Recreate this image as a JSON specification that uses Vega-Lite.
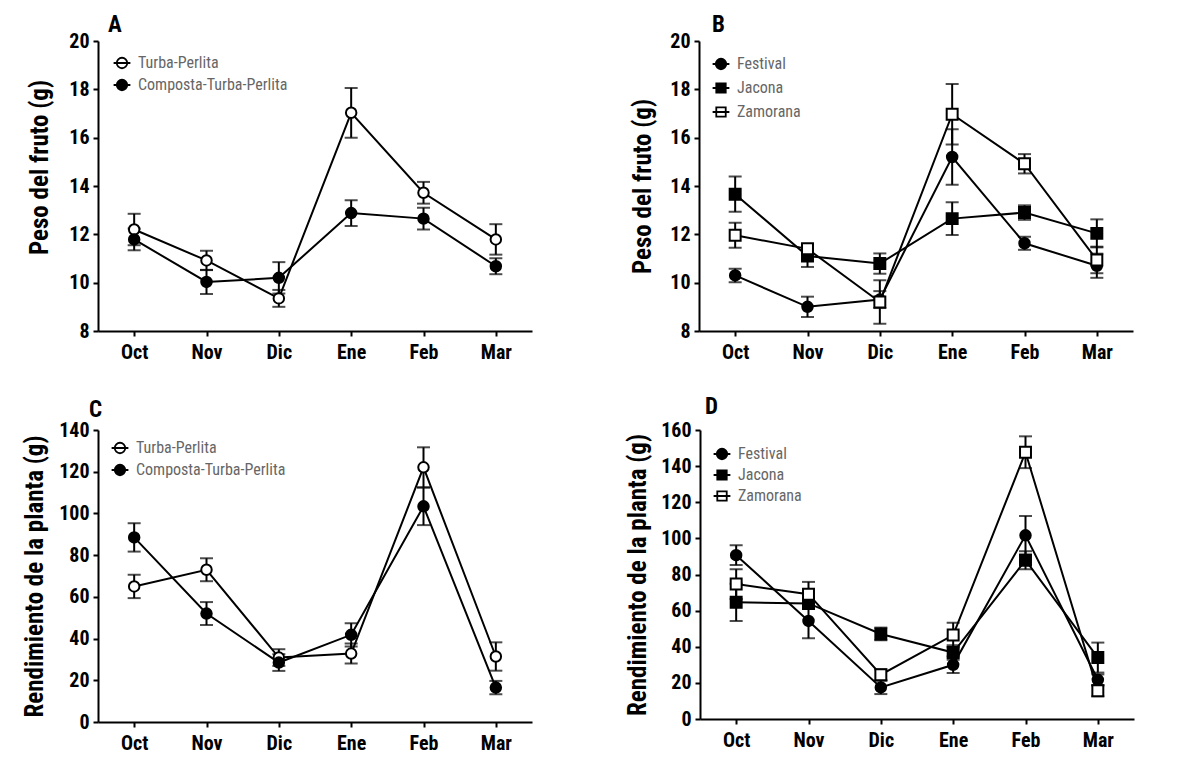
{
  "$schema": "https://vega.github.io/schema/vega-lite/v6.json",
  "background": "white",
  "padding": {"left": 22, "top": 14, "right": 5, "bottom": 5},
  "config": {
    "font": "Roboto Condensed, Liberation Sans Narrow, Arial Narrow, Liberation Sans, sans-serif",
    "view": {"stroke": null},
    "axis": {
      "domainColor": "black", "domainWidth": 2, "tickColor": "black", "tickWidth": 2, "tickSize": 5,
      "labelFont": "Roboto Condensed, Liberation Sans Narrow, Arial Narrow, Liberation Sans, sans-serif",
      "labelFontWeight": "bold", "labelFontSize": 20, "labelColor": "black",
      "titleFont": "Roboto Condensed, Liberation Sans Narrow, Arial Narrow, Liberation Sans, sans-serif",
      "titleFontWeight": "bold", "titleFontSize": 25, "titleColor": "black", "grid": false
    },
    "legend": {
      "labelFont": "Roboto Condensed, Liberation Sans Narrow, Arial Narrow, Liberation Sans, sans-serif",
      "labelFontSize": 16, "labelColor": "#666666", "symbolSize": 110, "symbolStrokeWidth": 1.8,
      "labelOffset": 8, "rowPadding": 6, "labelLimit": 400
    },
    "title": {"font": "Roboto Condensed, Liberation Sans Narrow, Arial Narrow, Liberation Sans, sans-serif", "fontSize": 23, "fontWeight": "bold", "anchor": "start", "frame": "group", "color": "black"}
  },
  "datasets": {
    "A": [
      {"month": "Oct", "series": "Turba-Perlita", "mean": 12.2, "se": 0.65},
      {"month": "Nov", "series": "Turba-Perlita", "mean": 10.92, "se": 0.4},
      {"month": "Dic", "series": "Turba-Perlita", "mean": 9.35, "se": 0.35},
      {"month": "Ene", "series": "Turba-Perlita", "mean": 17.03, "se": 1.03},
      {"month": "Feb", "series": "Turba-Perlita", "mean": 13.72, "se": 0.45},
      {"month": "Mar", "series": "Turba-Perlita", "mean": 11.79, "se": 0.63},
      {"month": "Oct", "series": "Composta-Turba-Perlita", "mean": 11.79, "se": 0.45},
      {"month": "Nov", "series": "Composta-Turba-Perlita", "mean": 10.03, "se": 0.5},
      {"month": "Dic", "series": "Composta-Turba-Perlita", "mean": 10.2, "se": 0.65},
      {"month": "Ene", "series": "Composta-Turba-Perlita", "mean": 12.88, "se": 0.53},
      {"month": "Feb", "series": "Composta-Turba-Perlita", "mean": 12.65, "se": 0.45},
      {"month": "Mar", "series": "Composta-Turba-Perlita", "mean": 10.68, "se": 0.33}
    ],
    "B": [
      {"month": "Oct", "series": "Festival", "mean": 10.3, "se": 0.28},
      {"month": "Nov", "series": "Festival", "mean": 9.0, "se": 0.42},
      {"month": "Dic", "series": "Festival", "mean": 9.3, "se": 0.35},
      {"month": "Ene", "series": "Festival", "mean": 15.2, "se": 1.15},
      {"month": "Feb", "series": "Festival", "mean": 11.63, "se": 0.27},
      {"month": "Mar", "series": "Festival", "mean": 10.7, "se": 0.5},
      {"month": "Oct", "series": "Jacona", "mean": 13.66, "se": 0.73},
      {"month": "Nov", "series": "Jacona", "mean": 11.1, "se": 0.45},
      {"month": "Dic", "series": "Jacona", "mean": 10.79, "se": 0.42},
      {"month": "Ene", "series": "Jacona", "mean": 12.65, "se": 0.68},
      {"month": "Feb", "series": "Jacona", "mean": 12.9, "se": 0.3},
      {"month": "Mar", "series": "Jacona", "mean": 12.04, "se": 0.58},
      {"month": "Oct", "series": "Zamorana", "mean": 11.96, "se": 0.52},
      {"month": "Nov", "series": "Zamorana", "mean": 11.4, "se": 0.2},
      {"month": "Dic", "series": "Zamorana", "mean": 9.2, "se": 0.9},
      {"month": "Ene", "series": "Zamorana", "mean": 16.97, "se": 1.25},
      {"month": "Feb", "series": "Zamorana", "mean": 14.92, "se": 0.4},
      {"month": "Mar", "series": "Zamorana", "mean": 10.94, "se": 0.55}
    ],
    "C": [
      {"month": "Oct", "series": "Turba-Perlita", "mean": 65.0, "se": 5.6},
      {"month": "Nov", "series": "Turba-Perlita", "mean": 73.0, "se": 5.5},
      {"month": "Dic", "series": "Turba-Perlita", "mean": 30.9, "se": 4},
      {"month": "Ene", "series": "Turba-Perlita", "mean": 32.8, "se": 4.8},
      {"month": "Feb", "series": "Turba-Perlita", "mean": 122.1, "se": 9.6},
      {"month": "Mar", "series": "Turba-Perlita", "mean": 31.4, "se": 6.8},
      {"month": "Oct", "series": "Composta-Turba-Perlita", "mean": 88.5, "se": 6.8},
      {"month": "Nov", "series": "Composta-Turba-Perlita", "mean": 52.0, "se": 5.5},
      {"month": "Dic", "series": "Composta-Turba-Perlita", "mean": 28.5, "se": 4},
      {"month": "Ene", "series": "Composta-Turba-Perlita", "mean": 41.8, "se": 5.6},
      {"month": "Feb", "series": "Composta-Turba-Perlita", "mean": 103.4, "se": 9},
      {"month": "Mar", "series": "Composta-Turba-Perlita", "mean": 16.5, "se": 3.2}
    ],
    "D": [
      {"month": "Oct", "series": "Festival", "mean": 90.7, "se": 5.5},
      {"month": "Nov", "series": "Festival", "mean": 54.3, "se": 9.6},
      {"month": "Dic", "series": "Festival", "mean": 17.5, "se": 3.7},
      {"month": "Ene", "series": "Festival", "mean": 30.0, "se": 4.6},
      {"month": "Feb", "series": "Festival", "mean": 101.7, "se": 10.7},
      {"month": "Mar", "series": "Festival", "mean": 21.7, "se": 3},
      {"month": "Oct", "series": "Jacona", "mean": 64.6, "se": 10.3},
      {"month": "Nov", "series": "Jacona", "mean": 64.0, "se": 3},
      {"month": "Dic", "series": "Jacona", "mean": 47.1, "se": 3.5},
      {"month": "Ene", "series": "Jacona", "mean": 36.8, "se": 4},
      {"month": "Feb", "series": "Jacona", "mean": 87.9, "se": 5},
      {"month": "Mar", "series": "Jacona", "mean": 34.0, "se": 8.3},
      {"month": "Oct", "series": "Zamorana", "mean": 74.7, "se": 8.2},
      {"month": "Nov", "series": "Zamorana", "mean": 69.1, "se": 6.8},
      {"month": "Dic", "series": "Zamorana", "mean": 24.5, "se": 3},
      {"month": "Ene", "series": "Zamorana", "mean": 46.5, "se": 6.8},
      {"month": "Feb", "series": "Zamorana", "mean": 147.7, "se": 8.8},
      {"month": "Mar", "series": "Zamorana", "mean": 15.6, "se": 3}
    ]
  },
  "vconcat": [
    {
      "hconcat": [
        {
          "width": 434, "height": 290,
          "title": {"text": "A", "dx": 10, "offset": -6},
          "data": {"name": "A"},
          "encoding": {
            "x": {"field": "month", "type": "ordinal", "sort": ["Oct", "Nov", "Dic", "Ene", "Feb", "Mar"], "scale": {"type": "point", "padding": 0.5}, "axis": {"title": null, "labelAngle": 0, "labelPadding": 6}},
            "y": {"field": "mean", "type": "quantitative", "scale": {"domain": [8, 20], "nice": false}, "axis": {"title": "Peso del fruto (g)", "values": [8, 10, 12, 14, 16, 18, 20], "titlePadding": 16, "titleY": 126, "labelPadding": 4}}
          },
          "layer": [
            {"mark": {"type": "line", "color": "black", "strokeWidth": 2}, "encoding": {"detail": {"field": "series"}}},
            {"mark": {"type": "errorbar", "ticks": {"size": 13, "thickness": 2, "color": "black"}, "rule": {"strokeWidth": 2, "color": "black"}}, "encoding": {"yError": {"field": "se"}, "detail": {"field": "series"}}},
            {"mark": {"type": "point", "shape": "circle", "filled": true, "size": 110, "stroke": "black", "strokeWidth": 2, "opacity": 1},
             "encoding": {"fill": {"field": "series", "type": "nominal", "scale": {"domain": ["Turba-Perlita", "Composta-Turba-Perlita"], "range": ["white", "black"]}, "legend": null}}},
            {"transform": [{"filter": "false"}],
             "mark": {"type": "point", "filled": false, "size": 110, "strokeWidth": 1.8, "opacity": 1},
             "encoding": {
               "shape": {"field": "series", "type": "nominal", "scale": {"domain": ["Turba-Perlita", "Composta-Turba-Perlita"], "range": ["M-1.6,0H1.6M1,0A1,1,0,1,1,-1,0A1,1,0,1,1,1,0Z", "M-1.6,0H1.6M1,0A1,1,0,1,1,-1,0A1,1,0,1,1,1,0Z"]},
                 "legend": {"title": null, "orient": "none", "legendX": 16, "legendY": 14, "rowPadding": 4}},
               "fill": {"field": "series", "type": "nominal", "scale": {"domain": ["Turba-Perlita", "Composta-Turba-Perlita"], "range": ["white", "black"]},
                 "legend": {"title": null, "orient": "none", "legendX": 16, "legendY": 14, "rowPadding": 4}},
               "stroke": {"field": "series", "type": "nominal", "scale": {"domain": ["Turba-Perlita", "Composta-Turba-Perlita"], "range": ["black", "black"]},
                 "legend": {"title": null, "orient": "none", "legendX": 16, "legendY": 14, "rowPadding": 4}}
             }}
          ],
          "resolve": {"scale": {"fill": "independent", "shape": "independent", "stroke": "independent"}, "legend": {"fill": "independent", "shape": "independent", "stroke": "independent"}}
        },
        {
          "width": 434, "height": 290,
          "title": {"text": "B", "dx": 13, "offset": -6},
          "data": {"name": "B"},
          "encoding": {
            "x": {"field": "month", "type": "ordinal", "sort": ["Oct", "Nov", "Dic", "Ene", "Feb", "Mar"], "scale": {"type": "point", "padding": 0.5}, "axis": {"title": null, "labelAngle": 0, "labelPadding": 6}},
            "y": {"field": "mean", "type": "quantitative", "scale": {"domain": [8, 20], "nice": false}, "axis": {"title": "Peso del fruto (g)", "values": [8, 10, 12, 14, 16, 18, 20], "titlePadding": 14, "labelPadding": 4}}
          },
          "layer": [
            {"mark": {"type": "line", "color": "black", "strokeWidth": 2}, "encoding": {"detail": {"field": "series"}}},
            {"mark": {"type": "errorbar", "ticks": {"size": 13, "thickness": 2, "color": "black"}, "rule": {"strokeWidth": 2, "color": "black"}}, "encoding": {"yError": {"field": "se"}, "detail": {"field": "series"}}},
            {"transform": [{"filter": {"field": "series", "equal": "Festival"}}],
             "mark": {"type": "point", "shape": "circle", "filled": true, "size": 110, "stroke": "black", "strokeWidth": 2, "opacity": 1},
             "encoding": {"fill": {"field": "series", "type": "nominal", "scale": {"domain": ["Festival", "Jacona", "Zamorana"], "range": ["black", "black", "white"]}, "legend": null}}},
            {"transform": [{"filter": {"field": "series", "oneOf": ["Jacona", "Zamorana"]}}],
             "mark": {"type": "point", "shape": "square", "filled": true, "size": 120, "stroke": "black", "strokeWidth": 2, "opacity": 1},
             "encoding": {"fill": {"field": "series", "type": "nominal", "scale": {"domain": ["Festival", "Jacona", "Zamorana"], "range": ["black", "black", "white"]}, "legend": null}}},
            {"transform": [{"filter": "false"}],
             "mark": {"type": "point", "filled": false, "size": 110, "strokeWidth": 1.8, "opacity": 1},
             "encoding": {
               "shape": {"field": "series", "type": "nominal", "scale": {"domain": ["Festival", "Jacona", "Zamorana"], "range": ["M-1.6,0H1.6M1,0A1,1,0,1,1,-1,0A1,1,0,1,1,1,0Z", "M-1.6,0H1.6M-0.9,-0.9H0.9V0.9H-0.9Z", "M-1.6,0H1.6M-0.9,-0.9H0.9V0.9H-0.9Z"]},
                 "legend": {"title": null, "orient": "none", "legendX": 14, "legendY": 15}},
               "fill": {"field": "series", "type": "nominal", "scale": {"domain": ["Festival", "Jacona", "Zamorana"], "range": ["black", "black", "white"]},
                 "legend": {"title": null, "orient": "none", "legendX": 14, "legendY": 15}},
               "stroke": {"field": "series", "type": "nominal", "scale": {"domain": ["Festival", "Jacona", "Zamorana"], "range": ["black", "black", "black"]},
                 "legend": {"title": null, "orient": "none", "legendX": 14, "legendY": 15}}
             }}
          ],
          "resolve": {"scale": {"fill": "independent", "shape": "independent", "stroke": "independent"}, "legend": {"fill": "independent", "shape": "independent", "stroke": "independent"}}
        }
      ],
      "spacing": 98,
      "resolve": {"scale": {"x": "independent", "y": "independent", "shape": "independent", "fill": "independent", "stroke": "independent"}, "legend": {"shape": "independent", "fill": "independent", "stroke": "independent"}}
    },
    {
      "hconcat": [
        {
          "width": 434, "height": 292,
          "title": {"text": "C", "dx": -9, "offset": -2},
          "data": {"name": "C"},
          "encoding": {
            "x": {"field": "month", "type": "ordinal", "sort": ["Oct", "Nov", "Dic", "Ene", "Feb", "Mar"], "scale": {"type": "point", "padding": 0.5}, "axis": {"title": null, "labelAngle": 0, "labelPadding": 6}},
            "y": {"field": "mean", "type": "quantitative", "scale": {"domain": [0, 140], "nice": false}, "axis": {"title": "Rendimiento de la planta (g)", "values": [0, 20, 40, 60, 80, 100, 120, 140], "titlePadding": 11, "labelPadding": 4}}
          },
          "layer": [
            {"mark": {"type": "line", "color": "black", "strokeWidth": 2}, "encoding": {"detail": {"field": "series"}}},
            {"mark": {"type": "errorbar", "ticks": {"size": 13, "thickness": 2, "color": "black"}, "rule": {"strokeWidth": 2, "color": "black"}}, "encoding": {"yError": {"field": "se"}, "detail": {"field": "series"}}},
            {"mark": {"type": "point", "shape": "circle", "filled": true, "size": 110, "stroke": "black", "strokeWidth": 2, "opacity": 1},
             "encoding": {"fill": {"field": "series", "type": "nominal", "scale": {"domain": ["Turba-Perlita", "Composta-Turba-Perlita"], "range": ["white", "black"]}, "legend": null}}},
            {"transform": [{"filter": "false"}],
             "mark": {"type": "point", "filled": false, "size": 110, "strokeWidth": 1.8, "opacity": 1},
             "encoding": {
               "shape": {"field": "series", "type": "nominal", "scale": {"domain": ["Turba-Perlita", "Composta-Turba-Perlita"], "range": ["M-1.6,0H1.6M1,0A1,1,0,1,1,-1,0A1,1,0,1,1,1,0Z", "M-1.6,0H1.6M1,0A1,1,0,1,1,-1,0A1,1,0,1,1,1,0Z"]},
                 "legend": {"title": null, "orient": "none", "legendX": 14, "legendY": 10, "rowPadding": 4}},
               "fill": {"field": "series", "type": "nominal", "scale": {"domain": ["Turba-Perlita", "Composta-Turba-Perlita"], "range": ["white", "black"]},
                 "legend": {"title": null, "orient": "none", "legendX": 14, "legendY": 10, "rowPadding": 4}},
               "stroke": {"field": "series", "type": "nominal", "scale": {"domain": ["Turba-Perlita", "Composta-Turba-Perlita"], "range": ["black", "black"]},
                 "legend": {"title": null, "orient": "none", "legendX": 14, "legendY": 10, "rowPadding": 4}}
             }}
          ],
          "resolve": {"scale": {"fill": "independent", "shape": "independent", "stroke": "independent"}, "legend": {"fill": "independent", "shape": "independent", "stroke": "independent"}}
        },
        {
          "width": 434, "height": 289,
          "title": {"text": "D", "dx": 5, "offset": 1},
          "data": {"name": "D"},
          "encoding": {
            "x": {"field": "month", "type": "ordinal", "sort": ["Oct", "Nov", "Dic", "Ene", "Feb", "Mar"], "scale": {"type": "point", "padding": 0.5}, "axis": {"title": null, "labelAngle": 0, "labelPadding": 6}},
            "y": {"field": "mean", "type": "quantitative", "scale": {"domain": [0, 160], "nice": false}, "axis": {"title": "Rendimiento de la planta (g)", "values": [0, 20, 40, 60, 80, 100, 120, 140, 160], "titlePadding": 10, "labelPadding": 4}}
          },
          "layer": [
            {"mark": {"type": "line", "color": "black", "strokeWidth": 2}, "encoding": {"detail": {"field": "series"}}},
            {"mark": {"type": "errorbar", "ticks": {"size": 13, "thickness": 2, "color": "black"}, "rule": {"strokeWidth": 2, "color": "black"}}, "encoding": {"yError": {"field": "se"}, "detail": {"field": "series"}}},
            {"transform": [{"filter": {"field": "series", "equal": "Festival"}}],
             "mark": {"type": "point", "shape": "circle", "filled": true, "size": 110, "stroke": "black", "strokeWidth": 2, "opacity": 1},
             "encoding": {"fill": {"field": "series", "type": "nominal", "scale": {"domain": ["Festival", "Jacona", "Zamorana"], "range": ["black", "black", "white"]}, "legend": null}}},
            {"transform": [{"filter": {"field": "series", "oneOf": ["Jacona", "Zamorana"]}}],
             "mark": {"type": "point", "shape": "square", "filled": true, "size": 120, "stroke": "black", "strokeWidth": 2, "opacity": 1},
             "encoding": {"fill": {"field": "series", "type": "nominal", "scale": {"domain": ["Festival", "Jacona", "Zamorana"], "range": ["black", "black", "white"]}, "legend": null}}},
            {"transform": [{"filter": "false"}],
             "mark": {"type": "point", "filled": false, "size": 110, "strokeWidth": 1.8, "opacity": 1},
             "encoding": {
               "shape": {"field": "series", "type": "nominal", "scale": {"domain": ["Festival", "Jacona", "Zamorana"], "range": ["M-1.6,0H1.6M1,0A1,1,0,1,1,-1,0A1,1,0,1,1,1,0Z", "M-1.6,0H1.6M-0.9,-0.9H0.9V0.9H-0.9Z", "M-1.6,0H1.6M-0.9,-0.9H0.9V0.9H-0.9Z"]},
                 "legend": {"title": null, "orient": "none", "legendX": 14, "legendY": 16, "rowPadding": 3}},
               "fill": {"field": "series", "type": "nominal", "scale": {"domain": ["Festival", "Jacona", "Zamorana"], "range": ["black", "black", "white"]},
                 "legend": {"title": null, "orient": "none", "legendX": 14, "legendY": 16, "rowPadding": 3}},
               "stroke": {"field": "series", "type": "nominal", "scale": {"domain": ["Festival", "Jacona", "Zamorana"], "range": ["black", "black", "black"]},
                 "legend": {"title": null, "orient": "none", "legendX": 14, "legendY": 16, "rowPadding": 3}}
             }}
          ],
          "resolve": {"scale": {"fill": "independent", "shape": "independent", "stroke": "independent"}, "legend": {"fill": "independent", "shape": "independent", "stroke": "independent"}}
        }
      ],
      "spacing": 93,
      "resolve": {"scale": {"x": "independent", "y": "independent", "shape": "independent", "fill": "independent", "stroke": "independent"}, "legend": {"shape": "independent", "fill": "independent", "stroke": "independent"}}
    }
  ],
  "spacing": 34,
  "resolve": {"scale": {"x": "independent", "y": "independent", "shape": "independent", "fill": "independent", "stroke": "independent"}, "legend": {"shape": "independent", "fill": "independent", "stroke": "independent"}}
}
